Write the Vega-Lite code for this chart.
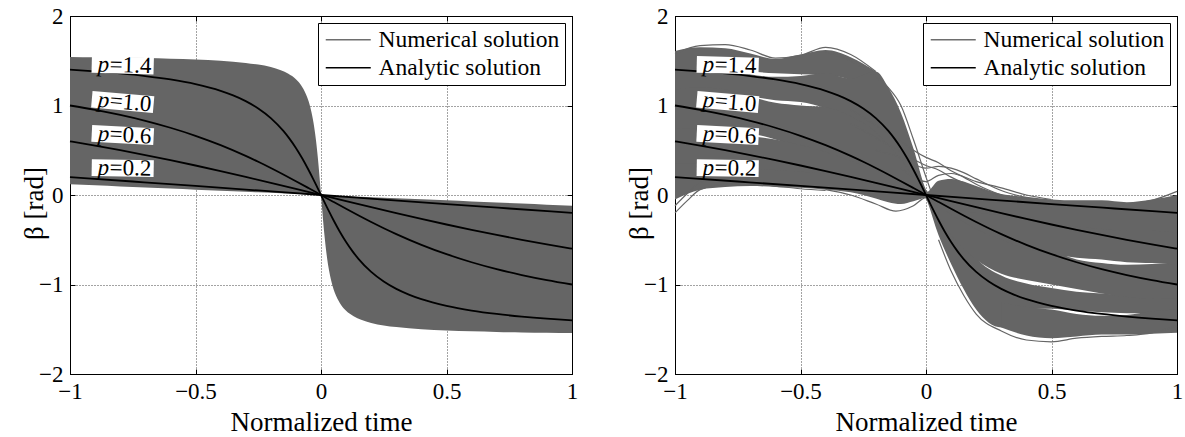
{
  "$schema": "https://vega.github.io/schema/vega-lite/v6.json",
  "autosize": {"type": "pad"},
  "padding": {"left": 19, "top": 4, "right": 5, "bottom": 5},
  "background": "white",
  "bounds": "flush",
  "spacing": 103,
  "config": {
    "view": {"stroke": "black", "strokeWidth": 1},
    "axis": {
      "labelFont": "Liberation Serif", "labelFontSize": 23, "labelColor": "black",
      "titleFont": "Liberation Serif", "titleFontSize": 27, "titleFontWeight": "normal", "titleColor": "black",
      "domainColor": "black", "tickColor": "black", "tickSize": -5,
      "gridColor": "#333333", "gridDash": [1, 2], "gridOpacity": 0.9,
      "labelFlush": false, "labelOverlap": false, "labelBound": false
    },
    "legend": {
      "orient": "top-right", "offset": 7, "padding": 5,
      "strokeColor": "black", "fillColor": "white",
      "labelFont": "Liberation Serif", "labelFontSize": 23.5, "labelColor": "black", "labelLimit": 400,
      "symbolType": "M-1,0H4", "symbolSize": 324, "symbolStrokeWidth": 1.5,
      "rowPadding": 3, "labelOffset": 32
    },
    "text": {"font": "Liberation Serif", "fontSize": 23, "color": "black"}
  },
  "datasets": {
    "envL": [
      {"t": -1, "hi": 1.542, "lo": 0.12}, {"t": -0.9, "hi": 1.539, "lo": 0.108}, {"t": -0.8, "hi": 1.535, "lo": 0.096},
      {"t": -0.7, "hi": 1.53, "lo": 0.084}, {"t": -0.6, "hi": 1.523, "lo": 0.072}, {"t": -0.5, "hi": 1.514, "lo": 0.06},
      {"t": -0.4, "hi": 1.5, "lo": 0.048}, {"t": -0.3, "hi": 1.476, "lo": 0.036}, {"t": -0.25, "hi": 1.457, "lo": 0.03},
      {"t": -0.2, "hi": 1.429, "lo": 0.024}, {"t": -0.16, "hi": 1.394, "lo": 0.019}, {"t": -0.13, "hi": 1.354, "lo": 0.016},
      {"t": -0.1, "hi": 1.293, "lo": 0.012}, {"t": -0.08, "hi": 1.228, "lo": 0.01}, {"t": -0.06, "hi": 1.126, "lo": 0.007},
      {"t": -0.05, "hi": 1.052, "lo": 0.006}, {"t": -0.04, "hi": 0.951, "lo": 0.005}, {"t": -0.03, "hi": 0.81, "lo": 0.004},
      {"t": -0.02, "hi": 0.611, "lo": 0.002}, {"t": -0.015, "hi": 0.483, "lo": 0.002}, {"t": -0.01, "hi": 0.337, "lo": 0.001},
      {"t": -0.005, "hi": 0.173, "lo": 0.001}, {"t": 0, "hi": 0, "lo": 0},
      {"t": 0.005, "hi": -0.173, "lo": -0.001}, {"t": 0.01, "hi": -0.337, "lo": -0.001}, {"t": 0.015, "hi": -0.483, "lo": -0.002},
      {"t": 0.02, "hi": -0.611, "lo": -0.002}, {"t": 0.03, "hi": -0.81, "lo": -0.004}, {"t": 0.04, "hi": -0.951, "lo": -0.005},
      {"t": 0.05, "hi": -1.052, "lo": -0.006}, {"t": 0.06, "hi": -1.126, "lo": -0.007}, {"t": 0.08, "hi": -1.228, "lo": -0.01},
      {"t": 0.1, "hi": -1.293, "lo": -0.012}, {"t": 0.13, "hi": -1.354, "lo": -0.016}, {"t": 0.16, "hi": -1.394, "lo": -0.019},
      {"t": 0.2, "hi": -1.429, "lo": -0.024}, {"t": 0.25, "hi": -1.457, "lo": -0.03}, {"t": 0.3, "hi": -1.476, "lo": -0.036},
      {"t": 0.4, "hi": -1.5, "lo": -0.048}, {"t": 0.5, "hi": -1.514, "lo": -0.06}, {"t": 0.6, "hi": -1.523, "lo": -0.072},
      {"t": 0.7, "hi": -1.53, "lo": -0.084}, {"t": 0.8, "hi": -1.535, "lo": -0.096}, {"t": 0.9, "hi": -1.539, "lo": -0.108},
      {"t": 1, "hi": -1.542, "lo": -0.12}
    ],
    "analytic": [
      {"p": "1.4", "t": -1, "b": 1.4}, {"p": "1.4", "t": -0.9, "b": 1.3815}, {"p": "1.4", "t": -0.8, "b": 1.3584},
      {"p": "1.4", "t": -0.7, "b": 1.3292}, {"p": "1.4", "t": -0.6, "b": 1.2908}, {"p": "1.4", "t": -0.5, "b": 1.2386},
      {"p": "1.4", "t": -0.4, "b": 1.1639}, {"p": "1.4", "t": -0.35, "b": 1.1128}, {"p": "1.4", "t": -0.3, "b": 1.0493},
      {"p": "1.4", "t": -0.25, "b": 0.9668}, {"p": "1.4", "t": -0.2, "b": 0.8594}, {"p": "1.4", "t": -0.15, "b": 0.7157},
      {"p": "1.4", "t": -0.125, "b": 0.627}, {"p": "1.4", "t": -0.1, "b": 0.5254}, {"p": "1.4", "t": -0.075, "b": 0.4101},
      {"p": "1.4", "t": -0.05, "b": 0.2822}, {"p": "1.4", "t": -0.03, "b": 0.1722}, {"p": "1.4", "t": -0.02, "b": 0.1154},
      {"p": "1.4", "t": -0.01, "b": 0.0579}, {"p": "1.4", "t": 0, "b": 0},
      {"p": "1.4", "t": 0.01, "b": -0.0579}, {"p": "1.4", "t": 0.02, "b": -0.1154}, {"p": "1.4", "t": 0.03, "b": -0.1722},
      {"p": "1.4", "t": 0.05, "b": -0.2822}, {"p": "1.4", "t": 0.075, "b": -0.4101}, {"p": "1.4", "t": 0.1, "b": -0.5254},
      {"p": "1.4", "t": 0.125, "b": -0.627}, {"p": "1.4", "t": 0.15, "b": -0.7157}, {"p": "1.4", "t": 0.2, "b": -0.8594},
      {"p": "1.4", "t": 0.25, "b": -0.9668}, {"p": "1.4", "t": 0.3, "b": -1.0493}, {"p": "1.4", "t": 0.35, "b": -1.1128},
      {"p": "1.4", "t": 0.4, "b": -1.1639}, {"p": "1.4", "t": 0.5, "b": -1.2386}, {"p": "1.4", "t": 0.6, "b": -1.2908},
      {"p": "1.4", "t": 0.7, "b": -1.3292}, {"p": "1.4", "t": 0.8, "b": -1.3584}, {"p": "1.4", "t": 0.9, "b": -1.3815},
      {"p": "1.4", "t": 1, "b": -1.4},
      {"p": "1.0", "t": -1, "b": 1.0}, {"p": "1.0", "t": -0.9, "b": 0.9511}, {"p": "1.0", "t": -0.8, "b": 0.8945},
      {"p": "1.0", "t": -0.7, "b": 0.8287}, {"p": "1.0", "t": -0.6, "b": 0.7515}, {"p": "1.0", "t": -0.5, "b": 0.6616},
      {"p": "1.0", "t": -0.4, "b": 0.557}, {"p": "1.0", "t": -0.3, "b": 0.4368}, {"p": "1.0", "t": -0.25, "b": 0.3713},
      {"p": "1.0", "t": -0.2, "b": 0.302}, {"p": "1.0", "t": -0.15, "b": 0.2295}, {"p": "1.0", "t": -0.1, "b": 0.1545},
      {"p": "1.0", "t": -0.05, "b": 0.0777}, {"p": "1.0", "t": 0, "b": 0},
      {"p": "1.0", "t": 0.05, "b": -0.0777}, {"p": "1.0", "t": 0.1, "b": -0.1545}, {"p": "1.0", "t": 0.15, "b": -0.2295},
      {"p": "1.0", "t": 0.2, "b": -0.302}, {"p": "1.0", "t": 0.25, "b": -0.3713}, {"p": "1.0", "t": 0.3, "b": -0.4368},
      {"p": "1.0", "t": 0.4, "b": -0.557}, {"p": "1.0", "t": 0.5, "b": -0.6616}, {"p": "1.0", "t": 0.6, "b": -0.7515},
      {"p": "1.0", "t": 0.7, "b": -0.8287}, {"p": "1.0", "t": 0.8, "b": -0.8945}, {"p": "1.0", "t": 0.9, "b": -0.9511},
      {"p": "1.0", "t": 1, "b": -1.0},
      {"p": "0.6", "t": -1, "b": 0.6}, {"p": "0.6", "t": -0.9, "b": 0.5518}, {"p": "0.6", "t": -0.8, "b": 0.5006},
      {"p": "0.6", "t": -0.7, "b": 0.4466}, {"p": "0.6", "t": -0.6, "b": 0.3895}, {"p": "0.6", "t": -0.5, "b": 0.3296},
      {"p": "0.6", "t": -0.4, "b": 0.2671}, {"p": "0.6", "t": -0.3, "b": 0.2024}, {"p": "0.6", "t": -0.2, "b": 0.136},
      {"p": "0.6", "t": -0.1, "b": 0.0683}, {"p": "0.6", "t": 0, "b": 0},
      {"p": "0.6", "t": 0.1, "b": -0.0683}, {"p": "0.6", "t": 0.2, "b": -0.136}, {"p": "0.6", "t": 0.3, "b": -0.2024},
      {"p": "0.6", "t": 0.4, "b": -0.2671}, {"p": "0.6", "t": 0.5, "b": -0.3296}, {"p": "0.6", "t": 0.6, "b": -0.3895},
      {"p": "0.6", "t": 0.7, "b": -0.4466}, {"p": "0.6", "t": 0.8, "b": -0.5006}, {"p": "0.6", "t": 0.9, "b": -0.5518},
      {"p": "0.6", "t": 1, "b": -0.6},
      {"p": "0.2", "t": -1, "b": 0.2}, {"p": "0.2", "t": -0.75, "b": 0.1508}, {"p": "0.2", "t": -0.5, "b": 0.101},
      {"p": "0.2", "t": -0.25, "b": 0.0506}, {"p": "0.2", "t": 0, "b": 0}, {"p": "0.2", "t": 0.25, "b": -0.0506},
      {"p": "0.2", "t": 0.5, "b": -0.101}, {"p": "0.2", "t": 0.75, "b": -0.1508}, {"p": "0.2", "t": 1, "b": -0.2}
    ],
    "labels": [
      {"p": "1.4", "lab": "=1.4", "t": -0.79, "b": 1.45},
      {"p": "1.0", "lab": "=1.0", "t": -0.79, "b": 1.04},
      {"p": "0.6", "lab": "=0.6", "t": -0.79, "b": 0.67},
      {"p": "0.2", "lab": "=0.2", "t": -0.79, "b": 0.3}
    ],
    "bandsR": [
      {"g": "a1", "t": -1, "lo": 1.38, "hi": 1.61}, {"g": "a1", "t": -0.9, "lo": 1.4, "hi": 1.65}, {"g": "a1", "t": -0.8, "lo": 1.4, "hi": 1.64},
      {"g": "a1", "t": -0.7, "lo": 1.38, "hi": 1.58}, {"g": "a1", "t": -0.6, "lo": 1.36, "hi": 1.52}, {"g": "a1", "t": -0.5, "lo": 1.35, "hi": 1.57},
      {"g": "a1", "t": -0.4, "lo": 1.34, "hi": 1.62}, {"g": "a1", "t": -0.3, "lo": 1.28, "hi": 1.54}, {"g": "a1", "t": -0.2, "lo": 1.1, "hi": 1.38},
      {"g": "a2", "t": -1, "lo": 1.12, "hi": 1.4}, {"g": "a2", "t": -0.9, "lo": 1.14, "hi": 1.42}, {"g": "a2", "t": -0.8, "lo": 1.12, "hi": 1.42},
      {"g": "a2", "t": -0.7, "lo": 1.1, "hi": 1.35}, {"g": "a2", "t": -0.6, "lo": 1.06, "hi": 1.32}, {"g": "a2", "t": -0.5, "lo": 1.04, "hi": 1.33},
      {"g": "a2", "t": -0.4, "lo": 0.97, "hi": 1.36}, {"g": "a2", "t": -0.3, "lo": 0.84, "hi": 1.3}, {"g": "a2", "t": -0.2, "lo": 0.64, "hi": 1.38},
      {"g": "a2", "t": -0.15, "lo": 0.5, "hi": 1.2}, {"g": "a2", "t": -0.1, "lo": 0.34, "hi": 0.92}, {"g": "a2", "t": -0.05, "lo": 0.16, "hi": 0.52},
      {"g": "a2", "t": 0, "lo": -0.04, "hi": 0.06}, {"g": "a2", "t": 0.05, "lo": -0.45, "hi": -0.08}, {"g": "a2", "t": 0.1, "lo": -0.77, "hi": -0.28},
      {"g": "a2", "t": 0.15, "lo": -1.05, "hi": -0.5}, {"g": "a2", "t": 0.2, "lo": -1.28, "hi": -0.7}, {"g": "a2", "t": 0.3, "lo": -1.48, "hi": -0.9},
      {"g": "a2", "t": 0.4, "lo": -1.27, "hi": -0.99}, {"g": "a2", "t": 0.5, "lo": -1.27, "hi": -1.04}, {"g": "a2", "t": 0.6, "lo": -1.29, "hi": -1.08},
      {"g": "a2", "t": 0.7, "lo": -1.31, "hi": -1.1}, {"g": "a2", "t": 0.8, "lo": -1.32, "hi": -1.12}, {"g": "a2", "t": 0.9, "lo": -1.32, "hi": -1.1},
      {"g": "a2", "t": 1, "lo": -1.3, "hi": -1.1},
      {"g": "a3", "t": 0.3, "lo": -1.48, "hi": -1.2}, {"g": "a3", "t": 0.4, "lo": -1.57, "hi": -1.25}, {"g": "a3", "t": 0.5, "lo": -1.6, "hi": -1.28},
      {"g": "a3", "t": 0.6, "lo": -1.58, "hi": -1.33}, {"g": "a3", "t": 0.7, "lo": -1.56, "hi": -1.35}, {"g": "a3", "t": 0.8, "lo": -1.56, "hi": -1.34},
      {"g": "a3", "t": 0.9, "lo": -1.55, "hi": -1.3}, {"g": "a3", "t": 1, "lo": -1.54, "hi": -1.28},
      {"g": "b", "t": -1, "lo": 0.7, "hi": 1.18}, {"g": "b", "t": -0.9, "lo": 0.68, "hi": 1.2}, {"g": "b", "t": -0.8, "lo": 0.72, "hi": 1.18},
      {"g": "b", "t": -0.7, "lo": 0.69, "hi": 1.1}, {"g": "b", "t": -0.6, "lo": 0.62, "hi": 1.03}, {"g": "b", "t": -0.5, "lo": 0.52, "hi": 1.0},
      {"g": "b", "t": -0.4, "lo": 0.44, "hi": 0.98}, {"g": "b", "t": -0.3, "lo": 0.34, "hi": 0.88}, {"g": "b", "t": -0.2, "lo": 0.22, "hi": 0.7},
      {"g": "b", "t": -0.15, "lo": 0.16, "hi": 0.56}, {"g": "b", "t": -0.1, "lo": 0.09, "hi": 0.4}, {"g": "b", "t": -0.05, "lo": 0.03, "hi": 0.2},
      {"g": "b", "t": 0, "lo": -0.04, "hi": 0.05}, {"g": "b", "t": 0.05, "lo": -0.25, "hi": -0.03}, {"g": "b", "t": 0.1, "lo": -0.45, "hi": -0.1},
      {"g": "b", "t": 0.15, "lo": -0.6, "hi": -0.18}, {"g": "b", "t": 0.2, "lo": -0.72, "hi": -0.28}, {"g": "b", "t": 0.3, "lo": -0.88, "hi": -0.44},
      {"g": "b", "t": 0.4, "lo": -0.95, "hi": -0.56}, {"g": "b", "t": 0.5, "lo": -1.0, "hi": -0.62}, {"g": "b", "t": 0.6, "lo": -1.05, "hi": -0.72},
      {"g": "b", "t": 0.7, "lo": -1.1, "hi": -0.76}, {"g": "b", "t": 0.8, "lo": -1.14, "hi": -0.78}, {"g": "b", "t": 0.9, "lo": -1.16, "hi": -0.77},
      {"g": "b", "t": 1, "lo": -1.15, "hi": -0.76},
      {"g": "c", "t": -1, "lo": 0.3, "hi": 0.75}, {"g": "c", "t": -0.9, "lo": 0.3, "hi": 0.74}, {"g": "c", "t": -0.8, "lo": 0.3, "hi": 0.7},
      {"g": "c", "t": -0.7, "lo": 0.27, "hi": 0.66}, {"g": "c", "t": -0.6, "lo": 0.24, "hi": 0.62}, {"g": "c", "t": -0.5, "lo": 0.2, "hi": 0.56},
      {"g": "c", "t": -0.4, "lo": 0.16, "hi": 0.48}, {"g": "c", "t": -0.3, "lo": 0.12, "hi": 0.38}, {"g": "c", "t": -0.2, "lo": 0.06, "hi": 0.28},
      {"g": "c", "t": -0.15, "lo": 0.04, "hi": 0.22}, {"g": "c", "t": -0.1, "lo": 0.02, "hi": 0.15}, {"g": "c", "t": -0.05, "lo": 0.0, "hi": 0.08},
      {"g": "c", "t": 0, "lo": -0.03, "hi": 0.04}, {"g": "c", "t": 0.05, "lo": -0.12, "hi": -0.02}, {"g": "c", "t": 0.1, "lo": -0.22, "hi": -0.05},
      {"g": "c", "t": 0.15, "lo": -0.3, "hi": -0.1}, {"g": "c", "t": 0.2, "lo": -0.38, "hi": -0.13}, {"g": "c", "t": 0.3, "lo": -0.5, "hi": -0.2},
      {"g": "c", "t": 0.4, "lo": -0.6, "hi": -0.26}, {"g": "c", "t": 0.5, "lo": -0.66, "hi": -0.3}, {"g": "c", "t": 0.6, "lo": -0.7, "hi": -0.33},
      {"g": "c", "t": 0.7, "lo": -0.72, "hi": -0.36}, {"g": "c", "t": 0.8, "lo": -0.75, "hi": -0.38}, {"g": "c", "t": 0.9, "lo": -0.76, "hi": -0.38},
      {"g": "c", "t": 1, "lo": -0.78, "hi": -0.4},
      {"g": "d", "t": -1, "lo": -0.05, "hi": 0.35}, {"g": "d", "t": -0.9, "lo": 0.06, "hi": 0.35}, {"g": "d", "t": -0.8, "lo": 0.09, "hi": 0.33},
      {"g": "d", "t": -0.7, "lo": 0.1, "hi": 0.3}, {"g": "d", "t": -0.6, "lo": 0.09, "hi": 0.28}, {"g": "d", "t": -0.5, "lo": 0.08, "hi": 0.26},
      {"g": "d", "t": -0.4, "lo": 0.06, "hi": 0.24}, {"g": "d", "t": -0.3, "lo": 0.03, "hi": 0.2}, {"g": "d", "t": -0.2, "lo": -0.04, "hi": 0.14},
      {"g": "d", "t": -0.15, "lo": -0.08, "hi": 0.11}, {"g": "d", "t": -0.1, "lo": -0.1, "hi": 0.08}, {"g": "d", "t": -0.05, "lo": -0.07, "hi": 0.05},
      {"g": "d", "t": 0, "lo": -0.03, "hi": 0.03}, {"g": "d", "t": 0.05, "lo": -0.12, "hi": 0.16}, {"g": "d", "t": 0.1, "lo": -0.15, "hi": 0.18},
      {"g": "d", "t": 0.15, "lo": -0.18, "hi": 0.15}, {"g": "d", "t": 0.2, "lo": -0.2, "hi": 0.1}, {"g": "d", "t": 0.3, "lo": -0.22, "hi": 0.01},
      {"g": "d", "t": 0.4, "lo": -0.27, "hi": -0.02}, {"g": "d", "t": 0.5, "lo": -0.32, "hi": -0.05}, {"g": "d", "t": 0.6, "lo": -0.35, "hi": -0.06},
      {"g": "d", "t": 0.7, "lo": -0.38, "hi": -0.06}, {"g": "d", "t": 0.8, "lo": -0.4, "hi": -0.08}, {"g": "d", "t": 0.9, "lo": -0.4, "hi": -0.05},
      {"g": "d", "t": 1, "lo": -0.42, "hi": 0.0}
    ],
    "linesR": [
      {"id": 1, "t": -1, "b": -0.2}, {"id": 1, "t": -0.95, "b": -0.06}, {"id": 1, "t": -0.9, "b": 0.06}, {"id": 1, "t": -0.8, "b": 0.12},
      {"id": 1, "t": -0.7, "b": 0.13}, {"id": 1, "t": -0.6, "b": 0.1}, {"id": 1, "t": -0.5, "b": 0.07}, {"id": 1, "t": -0.4, "b": 0.05},
      {"id": 2, "t": -1, "b": -0.12}, {"id": 2, "t": -0.95, "b": 0.02}, {"id": 2, "t": -0.9, "b": 0.14}, {"id": 2, "t": -0.8, "b": 0.2},
      {"id": 2, "t": -0.7, "b": 0.22},
      {"id": 3, "t": -0.3, "b": 0.95}, {"id": 3, "t": -0.2, "b": 0.78}, {"id": 3, "t": -0.1, "b": 0.6}, {"id": 3, "t": -0.05, "b": 0.5},
      {"id": 3, "t": 0, "b": 0.42}, {"id": 3, "t": 0.05, "b": 0.36}, {"id": 3, "t": 0.1, "b": 0.27}, {"id": 3, "t": 0.15, "b": 0.2},
      {"id": 3, "t": 0.2, "b": 0.12}, {"id": 3, "t": 0.3, "b": 0.0}, {"id": 3, "t": 0.4, "b": -0.08}, {"id": 3, "t": 0.5, "b": -0.15},
      {"id": 4, "t": -0.3, "b": 0.8}, {"id": 4, "t": -0.2, "b": 0.64}, {"id": 4, "t": -0.1, "b": 0.48}, {"id": 4, "t": -0.05, "b": 0.4},
      {"id": 4, "t": 0, "b": 0.33}, {"id": 4, "t": 0.05, "b": 0.28}, {"id": 4, "t": 0.1, "b": 0.2}, {"id": 4, "t": 0.2, "b": 0.08},
      {"id": 4, "t": 0.3, "b": -0.02}, {"id": 4, "t": 0.4, "b": -0.08}, {"id": 4, "t": 0.6, "b": -0.12}, {"id": 4, "t": 0.7, "b": -0.12},
      {"id": 4, "t": 0.8, "b": -0.1}, {"id": 4, "t": 0.9, "b": -0.06}, {"id": 4, "t": 1, "b": 0.04},
      {"id": 5, "t": -0.4, "b": 0.06}, {"id": 5, "t": -0.3, "b": 0.0}, {"id": 5, "t": -0.2, "b": -0.1}, {"id": 5, "t": -0.12, "b": -0.18},
      {"id": 5, "t": -0.05, "b": -0.12}, {"id": 5, "t": 0, "b": -0.03}, {"id": 5, "t": 0.05, "b": -0.1},
      {"id": 6, "t": -1, "b": 1.58}, {"id": 6, "t": -0.9, "b": 1.67}, {"id": 6, "t": -0.8, "b": 1.68}, {"id": 6, "t": -0.7, "b": 1.62},
      {"id": 6, "t": -0.6, "b": 1.53}, {"id": 6, "t": -0.5, "b": 1.56}, {"id": 6, "t": -0.4, "b": 1.65}, {"id": 6, "t": -0.3, "b": 1.57},
      {"id": 6, "t": -0.2, "b": 1.38},
      {"id": 7, "t": 0.05, "b": -0.5}, {"id": 7, "t": 0.1, "b": -0.85}, {"id": 7, "t": 0.15, "b": -1.12}, {"id": 7, "t": 0.2, "b": -1.33},
      {"id": 7, "t": 0.3, "b": -1.52}, {"id": 7, "t": 0.4, "b": -1.62}, {"id": 7, "t": 0.5, "b": -1.64}, {"id": 7, "t": 0.6, "b": -1.6},
      {"id": 7, "t": 0.7, "b": -1.58}, {"id": 7, "t": 0.8, "b": -1.57}, {"id": 7, "t": 0.9, "b": -1.54}, {"id": 7, "t": 1, "b": -1.46},
      {"id": 8, "t": -0.2, "b": 0.5}, {"id": 8, "t": -0.1, "b": 0.42}, {"id": 8, "t": 0, "b": 0.3}, {"id": 8, "t": 0.05, "b": 0.32},
      {"id": 8, "t": 0.1, "b": 0.3}, {"id": 8, "t": 0.15, "b": 0.25}, {"id": 8, "t": 0.2, "b": 0.18}, {"id": 8, "t": 0.3, "b": 0.05},
      {"id": 8, "t": 0.4, "b": -0.03},
      {"id": 9, "t": -0.1, "b": 0.3}, {"id": 9, "t": 0, "b": 0.15}, {"id": 9, "t": 0.05, "b": 0.22}, {"id": 9, "t": 0.1, "b": 0.24},
      {"id": 9, "t": 0.2, "b": 0.15}, {"id": 9, "t": 0.3, "b": 0.08}, {"id": 9, "t": 0.4, "b": 0.0}, {"id": 9, "t": 0.5, "b": -0.05},
      {"id": 10, "t": -0.4, "b": 1.6}, {"id": 10, "t": -0.3, "b": 1.5}, {"id": 10, "t": -0.2, "b": 1.32}, {"id": 10, "t": -0.15, "b": 1.2},
      {"id": 10, "t": -0.1, "b": 1.0}, {"id": 10, "t": -0.05, "b": 0.62}, {"id": 10, "t": 0, "b": 0.2}, {"id": 10, "t": 0.05, "b": -0.2}
    ]
  },
  "resolve": {"scale": {"color": "independent"}},
  "hconcat": [
    {
      "width": 502, "height": 358,
      "resolve": {"axis": {"x": "independent", "y": "independent"}},
      "layer": [
        {
          "data": {"name": "envL"},
          "mark": {"type": "area", "interpolate": "monotone", "color": "#656565", "opacity": 1},
          "encoding": {
            "x": {"field": "t", "type": "quantitative", "scale": {"domain": [-1, 1], "nice": false, "zero": false},
                  "axis": {"orient": "bottom", "values": [-1, -0.5, 0, 0.5, 1], "format": "~g", "grid": true, "labelPadding": 11,
                           "title": "Normalized time", "titleY": 56, "titleBaseline": "alphabetic"}},
            "y": {"field": "hi", "type": "quantitative", "scale": {"domain": [-2, 2], "nice": false, "zero": false},
                  "axis": {"orient": "left", "values": [-2, -1, 0, 1, 2], "format": "~g", "grid": true, "labelPadding": 12,
                           "title": "β [rad]", "titleX": -28, "titleY": 187, "titleAngle": -90, "titleAlign": "center", "titleBaseline": "alphabetic"}},
            "y2": {"field": "lo"}
          }
        },
        {
          "data": {"name": "analytic"},
          "mark": {"type": "line", "interpolate": "monotone", "strokeWidth": 1.8},
          "encoding": {
            "x": {"field": "t", "type": "quantitative", "axis": {"orient": "top", "values": [-1, -0.5, 0, 0.5, 1], "labels": false, "grid": false, "title": null}},
            "y": {"field": "b", "type": "quantitative", "axis": {"orient": "right", "values": [-2, -1, 0, 1, 2], "labels": false, "grid": false, "title": null}},
            "detail": {"field": "p"},
            "color": {"datum": "Analytic solution", "type": "nominal",
                      "scale": {"domain": ["Numerical solution", "Analytic solution"], "range": ["#6e6e6e", "#000000"]},
                      "legend": {"title": null}}
          }
        },
        {
          "data": {"name": "labels"},
          "mark": {"type": "point", "shape": "M-1,-0.27L1,-0.27L1,0.27L-1,0.27Z", "filled": true, "color": "white", "opacity": 1, "size": 3844},
          "encoding": {
            "x": {"field": "t", "type": "quantitative", "axis": null},
            "y": {"field": "b", "type": "quantitative", "axis": null},
            "angle": {"condition": [{"test": "datum.p === '1.0'", "value": 5}, {"test": "datum.p === '0.6'", "value": 3}, {"test": "datum.p === '1.4'", "value": 1.5}], "value": 1}
          }
        },
        {
          "data": {"name": "labels"},
          "mark": {"type": "text", "text": "p", "fontStyle": "italic", "align": "right", "baseline": "middle", "dx": -13.5},
          "encoding": {
            "x": {"field": "t", "type": "quantitative", "axis": null},
            "y": {"field": "b", "type": "quantitative", "axis": null},
            "angle": {"condition": [{"test": "datum.p === '1.0'", "value": 5}, {"test": "datum.p === '0.6'", "value": 3}, {"test": "datum.p === '1.4'", "value": 1.5}], "value": 1}
          }
        },
        {
          "data": {"name": "labels"},
          "mark": {"type": "text", "align": "left", "baseline": "middle", "dx": -13},
          "encoding": {
            "x": {"field": "t", "type": "quantitative", "axis": null},
            "y": {"field": "b", "type": "quantitative", "axis": null},
            "text": {"field": "lab"},
            "angle": {"condition": [{"test": "datum.p === '1.0'", "value": 5}, {"test": "datum.p === '0.6'", "value": 3}, {"test": "datum.p === '1.4'", "value": 1.5}], "value": 1}
          }
        }
      ]
    },
    {
      "width": 502, "height": 358,
      "resolve": {"axis": {"x": "independent", "y": "independent"}},
      "layer": [
        {
          "data": {"name": "bandsR"},
          "mark": {"type": "area", "interpolate": "monotone", "color": "#656565", "opacity": 1},
          "encoding": {
            "x": {"field": "t", "type": "quantitative", "scale": {"domain": [-1, 1], "nice": false, "zero": false},
                  "axis": {"orient": "bottom", "values": [-1, -0.5, 0, 0.5, 1], "format": "~g", "grid": true, "labelPadding": 11,
                           "title": "Normalized time", "titleY": 56, "titleBaseline": "alphabetic"}},
            "y": {"field": "hi", "type": "quantitative", "scale": {"domain": [-2, 2], "nice": false, "zero": false},
                  "axis": {"orient": "left", "values": [-2, -1, 0, 1, 2], "format": "~g", "grid": true, "labelPadding": 12,
                           "title": "β [rad]", "titleX": -28, "titleY": 187, "titleAngle": -90, "titleAlign": "center", "titleBaseline": "alphabetic"}},
            "y2": {"field": "lo"},
            "detail": {"field": "g"}
          }
        },
        {
          "data": {"name": "linesR"},
          "mark": {"type": "line", "interpolate": "monotone", "strokeWidth": 1.2, "color": "#656565"},
          "encoding": {
            "x": {"field": "t", "type": "quantitative", "axis": null},
            "y": {"field": "b", "type": "quantitative", "axis": null},
            "detail": {"field": "id"}
          }
        },
        {
          "data": {"name": "analytic"},
          "mark": {"type": "line", "interpolate": "monotone", "strokeWidth": 1.8},
          "encoding": {
            "x": {"field": "t", "type": "quantitative", "axis": {"orient": "top", "values": [-1, -0.5, 0, 0.5, 1], "labels": false, "grid": false, "title": null}},
            "y": {"field": "b", "type": "quantitative", "axis": {"orient": "right", "values": [-2, -1, 0, 1, 2], "labels": false, "grid": false, "title": null}},
            "detail": {"field": "p"},
            "color": {"datum": "Analytic solution", "type": "nominal",
                      "scale": {"domain": ["Numerical solution", "Analytic solution"], "range": ["#6e6e6e", "#000000"]},
                      "legend": {"title": null}}
          }
        },
        {
          "data": {"name": "labels"},
          "mark": {"type": "point", "shape": "M-1,-0.27L1,-0.27L1,0.27L-1,0.27Z", "filled": true, "color": "white", "opacity": 1, "size": 3844},
          "encoding": {
            "x": {"field": "t", "type": "quantitative", "axis": null},
            "y": {"field": "b", "type": "quantitative", "axis": null},
            "angle": {"condition": [{"test": "datum.p === '1.0'", "value": 5}, {"test": "datum.p === '0.6'", "value": 3}, {"test": "datum.p === '1.4'", "value": 1.5}], "value": 1}
          }
        },
        {
          "data": {"name": "labels"},
          "mark": {"type": "text", "text": "p", "fontStyle": "italic", "align": "right", "baseline": "middle", "dx": -13.5},
          "encoding": {
            "x": {"field": "t", "type": "quantitative", "axis": null},
            "y": {"field": "b", "type": "quantitative", "axis": null},
            "angle": {"condition": [{"test": "datum.p === '1.0'", "value": 5}, {"test": "datum.p === '0.6'", "value": 3}, {"test": "datum.p === '1.4'", "value": 1.5}], "value": 1}
          }
        },
        {
          "data": {"name": "labels"},
          "mark": {"type": "text", "align": "left", "baseline": "middle", "dx": -13},
          "encoding": {
            "x": {"field": "t", "type": "quantitative", "axis": null},
            "y": {"field": "b", "type": "quantitative", "axis": null},
            "text": {"field": "lab"},
            "angle": {"condition": [{"test": "datum.p === '1.0'", "value": 5}, {"test": "datum.p === '0.6'", "value": 3}, {"test": "datum.p === '1.4'", "value": 1.5}], "value": 1}
          }
        }
      ]
    }
  ]
}
